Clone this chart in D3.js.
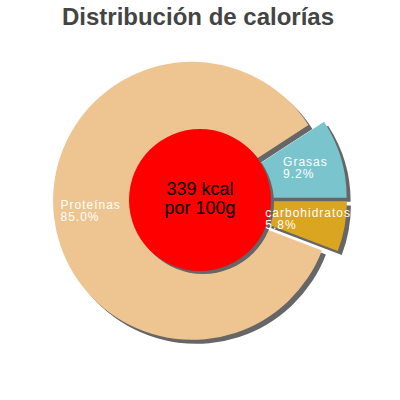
<!DOCTYPE html>
<html><head><meta charset="utf-8">
<script src="https://cdn.jsdelivr.net/npm/d3@7"></script>
<style>html,body{margin:0;padding:0;background:#fff}</style>
</head><body>
<svg id="c" width="400" height="400"></svg>
<script>
const categories = ["carbohidratos", "Proteínas", "Grasas"];
const values = [5.8, 85.0, 9.2];
const colors = ["#DAA520", "#EEC591", "#7AC5CD"];
const title = "Distribución de calorías";
const centerLines = ["339 kcal", "por 100g"];

const svg = d3.select("#c");
const cx = 200, cy = 200, R = 139, inner = 71, explode = 8, labelR = 102;
const shadow = {dx: 4, dy: 4, color: "#666666"};

svg.append("text").attr("x", 198).attr("y", 25).attr("text-anchor", "middle")
  .attr("font-family", "Liberation Sans, Arial, sans-serif").attr("font-weight", "bold")
  .attr("font-size", 24).attr("fill", "#444444").text(title);

const data = categories.map((c, i) => ({cat: c, value: values[i], color: colors[i]}));
const pie = d3.pie().sort(null).value(d => d.value).startAngle(Math.PI / 2).endAngle(Math.PI / 2 + 2 * Math.PI);
const arcs = pie(data);
const arc = d3.arc().innerRadius(0).outerRadius(R);

function off(a, r) {
  const m = (a.startAngle + a.endAngle) / 2;
  return [Math.sin(m) * r, -Math.cos(m) * r];
}

const g = svg.append("g").attr("transform", `translate(${cx},${cy})`);
// shadows
g.selectAll("path.sh").data(arcs).join("path").attr("class", "sh")
  .attr("d", arc).attr("fill", shadow.color)
  .attr("transform", d => { const o = off(d, explode); return `translate(${o[0] + shadow.dx},${o[1] + shadow.dy})`; });
// slices
g.selectAll("path.sl").data(arcs).join("path").attr("class", "sl")
  .attr("d", arc).attr("fill", d => d.data.color)
  .attr("transform", d => { const o = off(d, explode); return `translate(${o[0]},${o[1]})`; });
// inner circle
g.append("circle").attr("cx", shadow.dx - 1).attr("cy", shadow.dy - 1).attr("r", inner).attr("fill", shadow.color);
g.append("circle").attr("cx", 0).attr("cy", 0).attr("r", inner).attr("fill", "#FF0000");

// labels
arcs.forEach(d => {
  const o = off(d, explode), p = off(d, labelR);
  const px = o[0] + p[0], py = o[1] + p[1];
  const t = g.append("text").attr("font-family", "Liberation Sans, Arial, sans-serif")
    .attr("font-size", 12).attr("letter-spacing", 1).attr("fill", "#ffffff");
  const l1 = t.append("tspan").attr("y", py - 3).text(d.data.cat);
  const l2 = t.append("tspan").attr("y", py + 9).text(d.data.value.toFixed(1) + "%");
  const w = Math.max(l1.node().getComputedTextLength(), l2.node().getComputedTextLength());
  l1.attr("x", px - w / 2); l2.attr("x", px - w / 2);
});

const ct = g.append("text").attr("text-anchor", "middle")
  .attr("font-family", "Liberation Sans, Arial, sans-serif").attr("font-size", 18).attr("fill", "#000");
ct.append("tspan").attr("x", 0).attr("y", -5).text(centerLines[0]);
ct.append("tspan").attr("x", 0).attr("y", 14).text(centerLines[1]);
</script>
</body></html>
